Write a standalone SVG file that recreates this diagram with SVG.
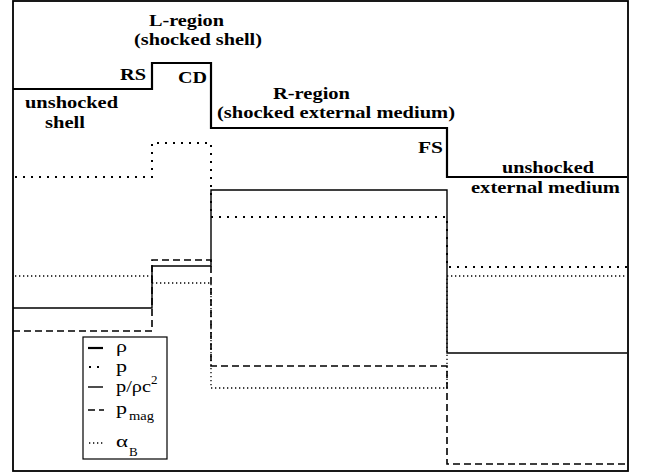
<svg xmlns="http://www.w3.org/2000/svg" width="646" height="474" viewBox="0 0 646 474">
<style>
.lab{font-family:"Liberation Serif","Times New Roman",serif;font-weight:bold;font-size:17px;fill:#000}
.leg{font-family:"Liberation Serif","Times New Roman",serif;font-size:17px;fill:#000}
.sub{font-family:"Liberation Serif","Times New Roman",serif;font-size:13px;fill:#000}
.rho{fill:none;stroke:#000;stroke-width:2.2}
.p{fill:none;stroke:#000;stroke-width:2;stroke-dasharray:2 6}
.prc{fill:none;stroke:#000;stroke-width:1.4}
.pmag{fill:none;stroke:#000;stroke-width:1.6;stroke-dasharray:7 4}
.ab{fill:none;stroke:#000;stroke-width:1.3;stroke-dasharray:1.3 2.7}
</style>
<rect x="0" y="0" width="646" height="474" fill="#fff"/>
<g id="frame"><rect x="13" y="1" width="615" height="470" fill="none" stroke="#000" stroke-width="1.8"/></g>
<g id="connectors">
<polyline id="rho" class="rho" points="13,89 152,89 152,63 211,63 211,128 447,128 447,177 627,177"/>
<polyline id="p" class="p" points="15,177 152,177 152,143 211,143 211,217 447,217 447,267 627,267"/>
<polyline id="prc" class="prc" points="13,308 152,308 152,266 211,266 211,190 447,190 447,353 627,353"/>
<polyline id="pmag" class="pmag" points="13,331 152,331 152,260 211,260 211,366 447,366 447,464 627,464"/>
<polyline id="alphaB" class="ab" points="15,276 152,276 152,283 211,283 211,388 447,388 447,276 627,276"/>
</g>
<g id="labels">
<text class="lab" x="149" y="26" textLength="75" lengthAdjust="spacingAndGlyphs">L-region</text>
<text class="lab" x="134" y="45" textLength="128" lengthAdjust="spacingAndGlyphs">(shocked shell)</text>
<text class="lab" x="120" y="80" textLength="26" lengthAdjust="spacingAndGlyphs">RS</text>
<text class="lab" x="178" y="83" textLength="29" lengthAdjust="spacingAndGlyphs">CD</text>
<text class="lab" x="25" y="108" textLength="93" lengthAdjust="spacingAndGlyphs">unshocked</text>
<text class="lab" x="45" y="128" textLength="40" lengthAdjust="spacingAndGlyphs">shell</text>
<text class="lab" x="273" y="99" textLength="77" lengthAdjust="spacingAndGlyphs">R-region</text>
<text class="lab" x="217" y="118" textLength="238" lengthAdjust="spacingAndGlyphs">(shocked external medium)</text>
<text class="lab" x="418" y="153" textLength="25" lengthAdjust="spacingAndGlyphs">FS</text>
<text class="lab" x="502" y="173" textLength="92" lengthAdjust="spacingAndGlyphs">unshocked</text>
<text class="lab" x="471" y="193" textLength="149" lengthAdjust="spacingAndGlyphs">external medium</text>
</g>
<g id="legend">
<rect x="83" y="337" width="84" height="122" fill="#fff" stroke="#000" stroke-width="1.2"/>
<line class="rho" x1="88" y1="348" x2="103" y2="348"/>
<text class="leg" x="116" y="352" textLength="11" lengthAdjust="spacingAndGlyphs">ρ</text>
<line class="p" x1="89" y1="367" x2="104" y2="367"/>
<text class="leg" x="116" y="372" textLength="11" lengthAdjust="spacingAndGlyphs">p</text>
<line class="prc" x1="88" y1="387" x2="103" y2="387"/>
<text class="leg" x="116" y="392" textLength="35" lengthAdjust="spacingAndGlyphs">p/ρc</text>
<text class="sub" x="151" y="384">2</text>
<line class="pmag" x1="88" y1="410" x2="104" y2="410"/>
<text class="leg" x="116" y="414" textLength="11" lengthAdjust="spacingAndGlyphs">p</text>
<text class="sub" x="129" y="420" textLength="25" lengthAdjust="spacingAndGlyphs">mag</text>
<line class="ab" x1="89" y1="443" x2="104" y2="443"/>
<text class="leg" x="116" y="447" textLength="12" lengthAdjust="spacingAndGlyphs">α</text>
<text class="sub" x="129" y="456">B</text>
</g>
</svg>
